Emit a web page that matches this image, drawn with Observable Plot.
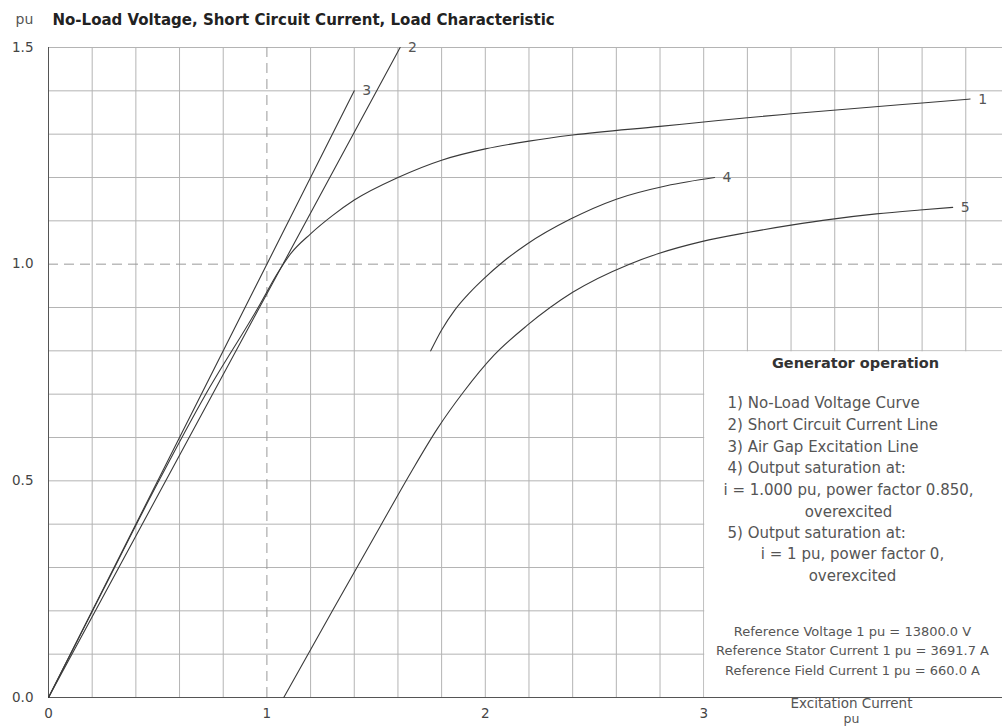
<!DOCTYPE html>
<html><head><meta charset="utf-8">
<script src="https://cdn.jsdelivr.net/npm/d3@7"></script>
<script src="https://cdn.jsdelivr.net/npm/@observablehq/plot@0.6"></script>
<style>body{margin:0;background:#fff} svg{display:block}</style>
</head><body><div id="chart"></div>
<script>
// ---- data (pu) ----
const noLoadX  = [0, 0.25, 0.5, 0.72, 0.96, 1.05, 1.11, 1.2, 1.3, 1.4, 1.6, 1.8, 2.0, 2.2, 2.4, 2.8, 3.0, 3.2, 3.4, 3.8, 4.0, 4.22];
const noLoadY  = [0, 0.248, 0.495, 0.70, 0.90, 0.98, 1.025, 1.07, 1.112, 1.148, 1.20, 1.24, 1.266, 1.284, 1.298, 1.318, 1.328, 1.338, 1.347, 1.364, 1.372, 1.381];
const shortCircuitX = [0, 1.61];
const shortCircuitY = [0, 1.5];
const airGapX = [0, 1.40];
const airGapY = [0, 1.40];
const pf085X = [1.75, 1.80, 1.86, 1.93, 1.99, 2.08, 2.19, 2.39, 2.6, 2.83, 3.05];
const pf085Y = [0.80, 0.848, 0.894, 0.935, 0.965, 1.005, 1.046, 1.104, 1.15, 1.181, 1.200];
const pf0X = [1.077, 1.3, 1.52, 1.66, 1.78, 1.9, 2.04, 2.19, 2.40, 2.66, 2.79, 2.99, 3.20, 3.40, 3.59, 3.79, 3.99, 4.14];
const pf0Y = [0, 0.20, 0.396, 0.52, 0.62, 0.705, 0.79, 0.858, 0.935, 1.0, 1.024, 1.052, 1.073, 1.09, 1.104, 1.116, 1.125, 1.131];
const seriesIds = ["1", "2", "3", "4", "5"];

const xTicks = [0, 1, 2, 3];
const yTicks = [0, 0.5, 1.0, 1.5];
const gridX = d3.range(1, 22).map(i => i * 0.2).filter(v => Math.abs(v - 1) > 1e-6);
const gridY = d3.range(1, 16).map(i => i / 10).filter(v => Math.abs(v - 1) > 1e-6);

const titleText = "No-Load Voltage, Short Circuit Current, Load Characteristic";
const yUnit = "pu";
const xLabel = ["Excitation Current", "pu"];
const legendTitle = "Generator operation";
const legendItems = ["1) No-Load Voltage Curve", "2) Short Circuit Current Line", "3) Air Gap Excitation Line", "4) Output saturation at:"];
const legendSub4 = ["i = 1.000 pu, power factor 0.850,", "overexcited"];
const legendItem5 = "5) Output saturation at:";
const legendSub5 = ["i = 1 pu, power factor 0,", "overexcited"];
const refLines = ["Reference Voltage 1 pu = 13800.0 V", "Reference Stator Current 1 pu = 3691.7 A", "Reference Field Current 1 pu = 660.0 A"];

// ---- build table ----
const seriesXY = [[noLoadX, noLoadY], [shortCircuitX, shortCircuitY], [airGapX, airGapY], [pf085X, pf085Y], [pf0X, pf0Y]];
const rows = seriesXY.flatMap(([xs, ys], k) => xs.map((x, i) => ({id: seriesIds[k], x, y: ys[i]})));
const ends = seriesXY.map(([xs, ys], k) => ({id: seriesIds[k], x: xs[xs.length - 1], y: ys[ys.length - 1]}));

const ML = 48, MT = 47;
const FONT = "DejaVu Sans";
const lab = (t, px, py, o = {}) => Plot.text([t], {
  text: d => d, frameAnchor: "top-left", dx: px - ML, dy: py - MT,
  fontFamily: FONT, fontSize: 15, fill: "#555", lineAnchor: "middle", textAnchor: "start", ...o
});

const legendMarks = [
  lab(legendTitle, 855, 363, {fontWeight: "bold", fill: "#333", textAnchor: "middle", fontSize: 14.5}),
  ...legendItems.map((t, i) => lab(t, 727, 403 + i * 21.7)),
  ...legendSub4.map((t, i) => lab(t, 848, 490 + i * 22, {textAnchor: "middle"})),
  lab(legendItem5, 727, 533),
  ...legendSub5.map((t, i) => lab(t, 852, 554 + i * 22, {textAnchor: "middle"})),
  ...refLines.map((t, i) => lab(t, 852, 631 + i * 19.5, {textAnchor: "middle", fontSize: 13}))
];

const chart = Plot.plot({
  width: 1002, height: 727,
  marginLeft: ML, marginRight: 0, marginTop: MT, marginBottom: 30,
  x: {domain: [0, 954 / 218.4], label: null},
  y: {domain: [0, 1.5], label: null},
  style: {fontFamily: FONT, fontSize: "13px", color: "#444", background: "#fff"},
  marks: [
    Plot.ruleX(gridX, {stroke: "#b4b4b4", strokeWidth: 1}),
    Plot.ruleY(gridY, {stroke: "#b4b4b4", strokeWidth: 1}),
    Plot.rect([{x1: 3.0, x2: 5, y1: 0, y2: 0.8}], {x1: "x1", x2: "x2", y1: "y1", y2: "y2", fill: "white", insetLeft: 1, insetTop: 1}),
    Plot.ruleX([1], {stroke: "#999", strokeDasharray: "10,6"}),
    Plot.ruleY([1], {stroke: "#999", strokeDasharray: "10,6"}),
    Plot.ruleX([0], {stroke: "#555"}),
    Plot.ruleY([0], {stroke: "#555"}),
    Plot.axisX(xTicks, {tickSize: 0, tickPadding: 11, tickFormat: d => String(d), fontSize: 13.5, fill: "#444"}),
    Plot.axisY(yTicks, {tickSize: 0, tickPadding: 15, tickFormat: ".1f", fontSize: 13.5, fill: "#444"}),
    Plot.line(rows, {x: "x", y: "y", z: "id", curve: "monotone-x", stroke: "#3a3a3a", strokeWidth: 1.1}),
    Plot.text(ends, {x: "x", y: "y", text: "id", dx: 8, textAnchor: "start", fontFamily: FONT, fontSize: 14, fill: "#555"}),
    lab(titleText, 52, 20, {fontWeight: "bold", fill: "#222", fontSize: 15}),
    lab(yUnit, 15, 19, {fontSize: 14}),
    lab(xLabel[0], 851, 703, {textAnchor: "middle", fontSize: 13.5}),
    lab(xLabel[1], 851, 718.5, {textAnchor: "middle", fontSize: 12.5}),
    ...legendMarks
  ]
});
document.getElementById("chart").append(chart);
</script></body></html>
